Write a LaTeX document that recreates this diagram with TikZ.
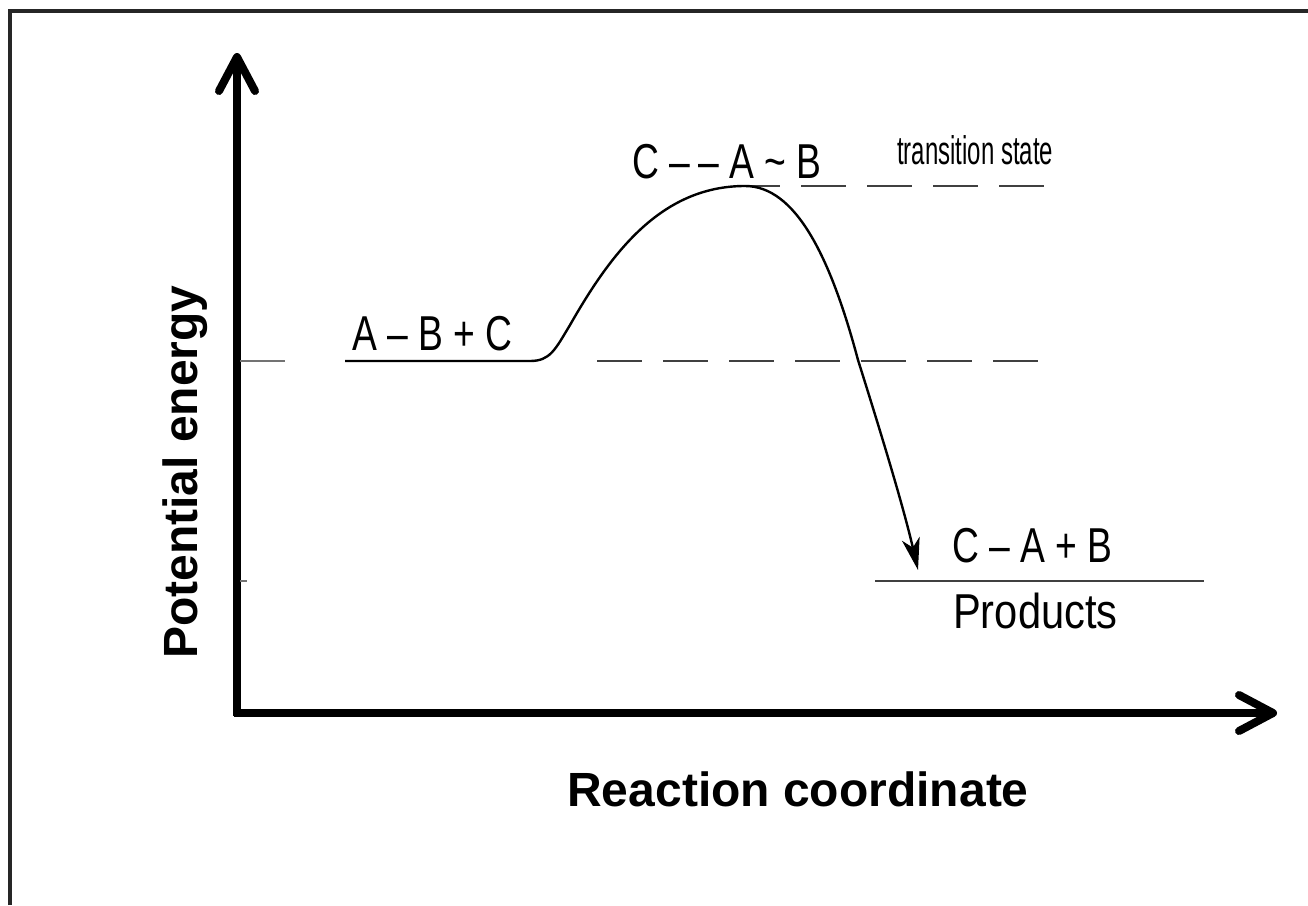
\documentclass[tikz,border=0pt]{standalone}
\usepackage{fontspec}
\setsansfont{Liberation Sans}
\newfontfamily\condfont[FakeStretch=0.76]{Liberation Sans}
\newfontfamily\smallcondfont[FakeStretch=0.6]{Liberation Sans}
\usepackage{tikz}
\usetikzlibrary{arrows.meta}
\usetikzlibrary{positioning}

\begin{document}
\begin{tikzpicture}[x=1pt, y=-1pt]
		\tikzstyle{axis}=[line width=8pt, -{Straight Barb[length=34pt, width=36pt, line cap=round, line join=round]}]
		\tikzstyle{level}=[line width=2.8pt, black!75]
		\tikzstyle{guide}=[line width=2.8pt, black!75, dash pattern=on 45pt off 21pt]
		\tikzstyle{species}=[inner sep=0pt, font=\condfont\fontsize{49}{54}\selectfont]
		\tikzstyle{title}=[inner sep=0pt, font=\sffamily\bfseries\fontsize{48}{54}\selectfont]
		\useasboundingbox (0,0) rectangle (1308,905);

    % Frame
		\draw[line width=3.5pt, black!85] (10,905) -- (10,11) -- (1308,11);

    % Axes
		\coordinate (origin) at (237,713);
		\coordinate (ytip) at (237,53);
		\coordinate (xtip) at (1277,713);
		\draw[axis] (237,716) -- (ytip);
		\draw[axis] (234,713) -- (xtip);

    % Ticks
		\draw[line width=1.5pt, black!55] (240,361) -- (285,361);
		\draw[line width=1.5pt, black!55] (240,581) -- (247,581);

    % Energy levels
		\coordinate (r0) at (345,361);
		\coordinate (r1) at (530,361);
		\coordinate (ts) at (745,186);
		\coordinate (cross) at (858,360);
		\coordinate (ptip) at (918,570);
		\draw[guide] (597,361) -- (1045,361);
		\draw[guide] (735,186) -- (1045,186);
		\draw[level] (875,581) -- (1204,581);

    % Reaction path
		\draw[line width=2.4pt, -{Stealth[length=32pt, width=18pt, inset=9pt]}]
			(r0) -- (r1) .. controls (550,361) and (555,350) .. (570,325)
			.. controls (610,255) and (660,186) .. (ts)
			.. controls (795,186) and (830,255) .. (cross)
			.. controls (880,430) and (903,505) .. (ptip);

    % Labels
		\node[species, anchor=base west](react) at (352,350){A \textendash\ B + C};
		\node[species, anchor=base west](trans) at (632,178){C \textendash\,\textendash\ A \textasciitilde\ B};
		\node[inner sep=0pt, anchor=base west, font=\smallcondfont\fontsize{40}{45}\selectfont](tslabel) at (897,164){transition state};
		\node[species, anchor=base west](prod) at (952,562){C \textendash\ A + B};
		\node[species, anchor=base west, font=\condfont\fontsize{49}{54}\selectfont\addfontfeature{FakeStretch=0.85}](prodlabel) at (953,628){Products};

		\node[title, anchor=base](xlabel) at (798,806){Reaction coordinate};
		\node[title, anchor=base, rotate=90](ylabel) at (197,472){Potential energy};

  \end{tikzpicture}
\end{document}
